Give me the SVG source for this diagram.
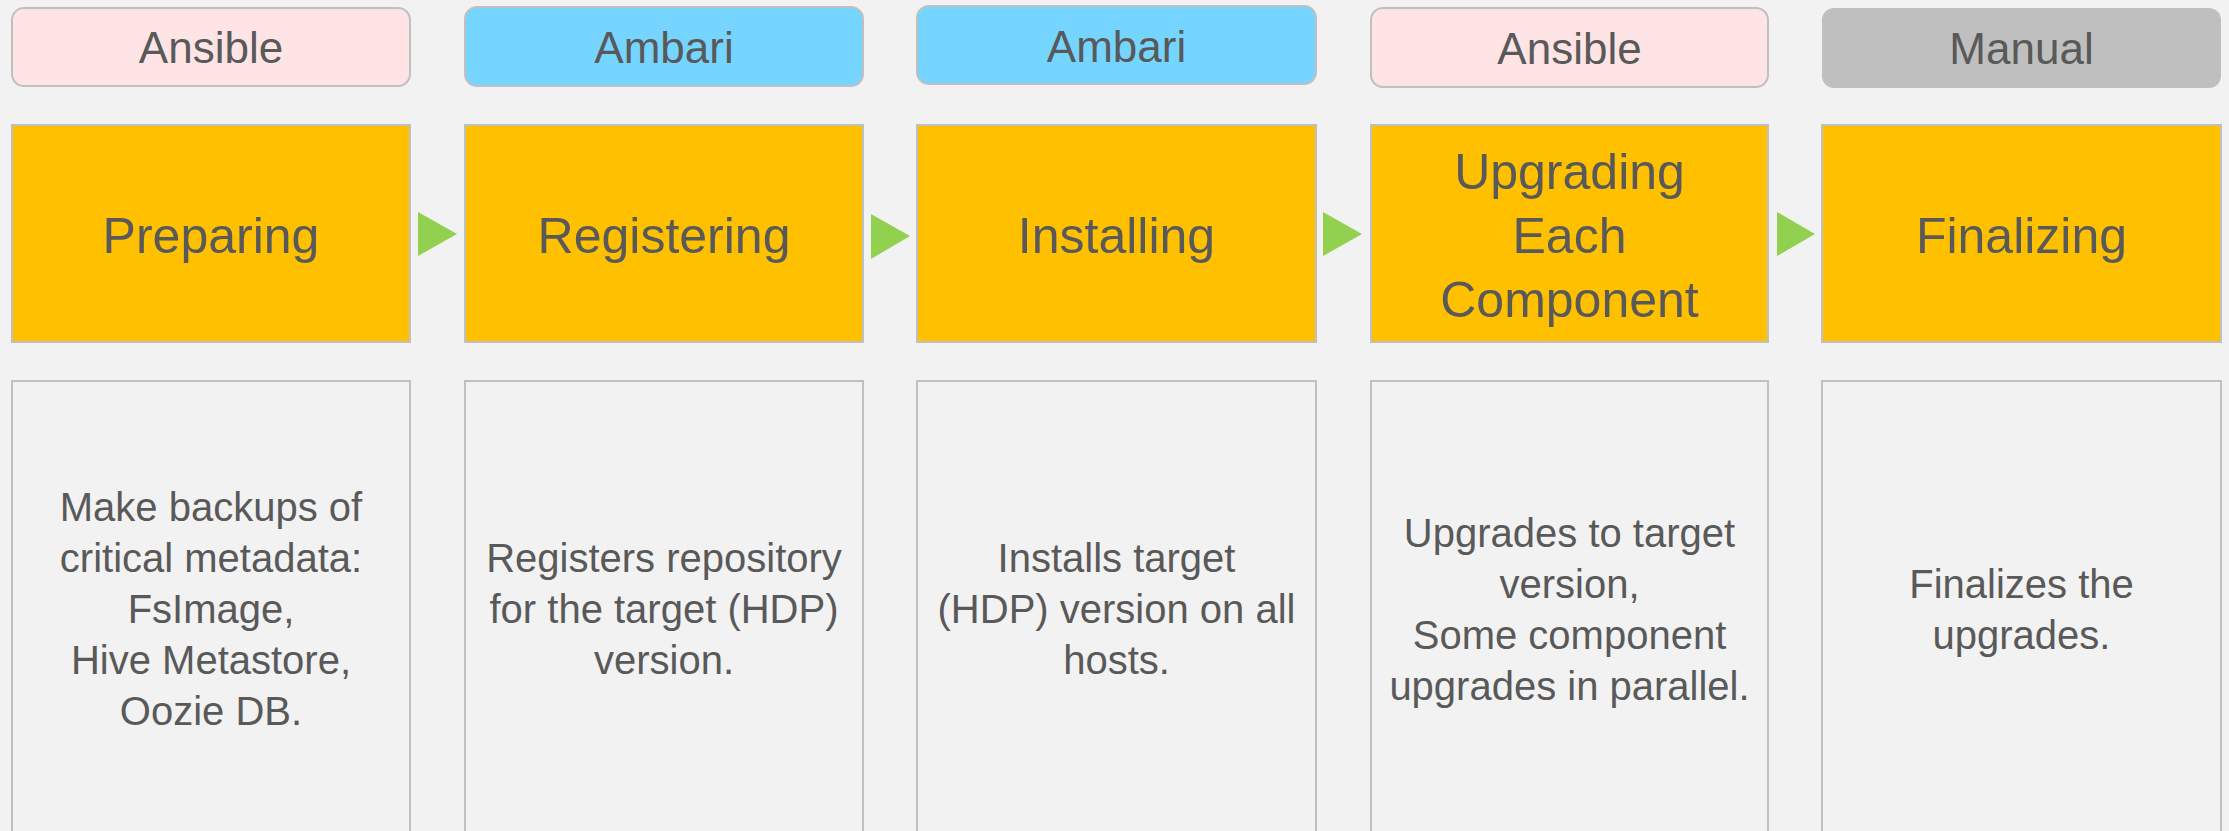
<svg xmlns="http://www.w3.org/2000/svg" width="2229" height="831" viewBox="0 0 2229 831">
<style>
.tag{stroke:#c0c0c0;stroke-width:2}
.pink{fill:#ffe4e6}
.blue{fill:#75d5ff}
.gray{fill:#bfbfbf}
.main{fill:#ffc000;stroke:#c0c0c0;stroke-width:2}
.desc{fill:#f2f2f2;stroke:#c0c0c0;stroke-width:2}
.arrow{fill:#92d050}
text{font-family:"Liberation Sans",Arial,sans-serif;fill:#595959;text-anchor:middle}
.t{font-size:44px}
.m{font-size:50px}
.d{font-size:40px}
</style>
<rect x="0" y="0" width="2229" height="831" fill="#f2f2f2"/>
<g id="col1">
<rect class="tag pink" x="12" y="8" width="398" height="78" rx="12"/>
<text class="t" x="211" y="63">Ansible</text>
<rect class="main" x="12" y="125" width="398" height="217"/>
<text class="m" x="211" y="253">Preparing</text>
<rect class="desc" x="12" y="381" width="398" height="470"/>
<text class="d" x="211" y="521">Make backups of</text>
<text class="d" x="211" y="572">critical metadata:</text>
<text class="d" x="211" y="623">FsImage,</text>
<text class="d" x="211" y="674">Hive Metastore,</text>
<text class="d" x="211" y="725">Oozie DB.</text>
</g>
<g id="col2">
<rect class="tag blue" x="465" y="7" width="398" height="79" rx="12"/>
<text class="t" x="664" y="63">Ambari</text>
<rect class="main" x="465" y="125" width="398" height="217"/>
<text class="m" x="664" y="253">Registering</text>
<rect class="desc" x="465" y="381" width="398" height="470"/>
<text class="d" x="664" y="572">Registers repository</text>
<text class="d" x="664" y="623">for the target (HDP)</text>
<text class="d" x="664" y="674">version.</text>
</g>
<g id="col3">
<rect class="tag blue" x="917" y="6" width="399" height="78" rx="12"/>
<text class="t" x="1116.5" y="62">Ambari</text>
<rect class="main" x="917" y="125" width="399" height="217"/>
<text class="m" x="1116.5" y="253">Installing</text>
<rect class="desc" x="917" y="381" width="399" height="470"/>
<text class="d" x="1116.5" y="572">Installs target</text>
<text class="d" x="1116.5" y="623">(HDP) version on all</text>
<text class="d" x="1116.5" y="674">hosts.</text>
</g>
<g id="col4">
<rect class="tag pink" x="1371" y="8" width="397" height="79" rx="12"/>
<text class="t" x="1569.5" y="64">Ansible</text>
<rect class="main" x="1371" y="125" width="397" height="217"/>
<text class="m" x="1569.5" y="189">Upgrading</text>
<text class="m" x="1569.5" y="253">Each</text>
<text class="m" x="1569.5" y="317">Component</text>
<rect class="desc" x="1371" y="381" width="397" height="470"/>
<text class="d" x="1569.5" y="547">Upgrades to target</text>
<text class="d" x="1569.5" y="598">version,</text>
<text class="d" x="1569.5" y="649">Some component</text>
<text class="d" x="1569.5" y="700">upgrades in parallel.</text>
</g>
<g id="col5">
<rect class="gray" x="1822" y="8" width="399" height="80" rx="12"/>
<text class="t" x="2021.5" y="64">Manual</text>
<rect class="main" x="1822" y="125" width="399" height="217"/>
<text class="m" x="2021.5" y="253">Finalizing</text>
<rect class="desc" x="1822" y="381" width="399" height="470"/>
<text class="d" x="2021.5" y="598">Finalizes the</text>
<text class="d" x="2021.5" y="649">upgrades.</text>
</g>
<g id="connectors">
<polygon class="arrow" points="418,212 457,234 418,256"/>
<polygon class="arrow" points="871,214 910,236 871,259"/>
<polygon class="arrow" points="1323,212 1362,234 1323,256"/>
<polygon class="arrow" points="1777,212 1815,234 1777,256"/>
</g>
</svg>
